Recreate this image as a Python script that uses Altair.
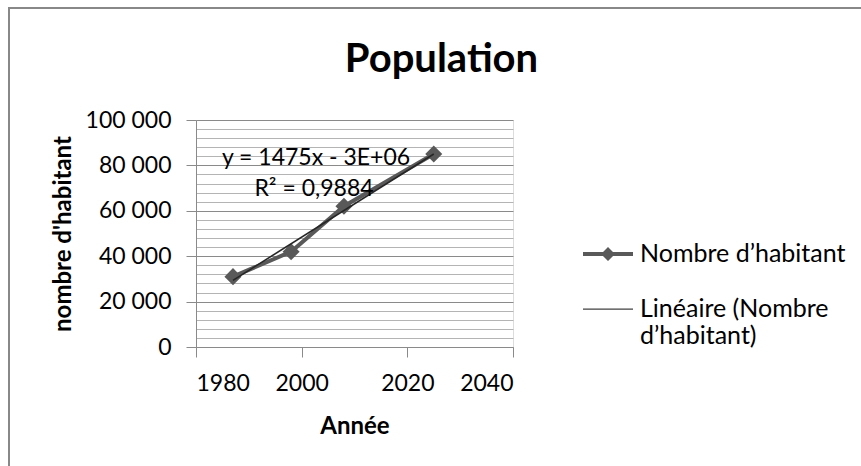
import altair as alt
import pandas as pd

# ---- data ----
years = [1987, 1998, 2008, 2025]
population = [31000, 42000, 62000, 85000]
series_data = "Nombre d’habitant"
series_trend = "Linéaire (Nombre d’habitant)"
series_names = [series_data, series_trend]
x_ticks = [1980, 2000, 2020, 2040]
y_ticks = list(range(0, 100001, 4000))   # major every 20 000, minor every 4 000
equation_text = "y = 1475x - 3E+06"
r2_text = "R² = 0,9884"

df = pd.DataFrame({"year": years, "pop": population, "series": series_data})
legend_df = pd.DataFrame({"series": series_names})

FONT = "Lato"
W, H = 317, 227
DATA_COLOR = "#595959"
TREND_COLOR = "#262626"
GRID_MAJOR = "#8a8a8a"
GRID_MINOR = "#b4b4b4"

x_enc = alt.X(
    "year:Q",
    scale=alt.Scale(domain=[1980, 2040], nice=False, zero=False),
    axis=alt.Axis(
        values=x_ticks, format="d", grid=False, title="Année",
        tickSize=10, tickColor=GRID_MAJOR, domainColor=GRID_MAJOR,
        labelFont=FONT, labelFontSize=23, labelColor="#000000", labelPadding=15,
        titleFont=FONT, titleFontSize=24, titleFontWeight="bold", titleColor="#000000",
        titlePadding=19, labelOverlap=False,
    ),
)
y_enc = alt.Y(
    "pop:Q",
    scale=alt.Scale(domain=[0, 100000], nice=False),
    axis=alt.Axis(
        values=y_ticks, tickCount=40, grid=True,
        gridColor={"condition": {"test": "datum.value % 20000 === 0", "value": GRID_MAJOR}, "value": GRID_MINOR},
        tickOpacity={"condition": {"test": "datum.value % 20000 === 0", "value": 1}, "value": 0},
        tickSize=10, tickColor=GRID_MAJOR, domainColor=GRID_MAJOR,
        labelExpr="datum.value % 20000 === 0 ? replace(format(datum.value, ','), ',', ' ') : ''",
        labelFont=FONT, labelFontSize=23, labelColor="#000000", labelPadding=15,
        labelOverlap=False,
        title="nombre d'habitant", titleFont=FONT, titleFontSize=24,
        titleFontWeight="bold", titleColor="#000000", titlePadding=10,
    ),
)

base = alt.Chart(df)

data_line = base.mark_line(color=DATA_COLOR, strokeWidth=4).encode(x=x_enc, y=y_enc)
data_points = base.mark_point(shape="diamond", filled=True, size=290, opacity=1,
                              color=DATA_COLOR).encode(x="year:Q", y="pop:Q")
trend = base.transform_regression("year", "pop").mark_line(
    color=TREND_COLOR, strokeWidth=1.6).encode(x="year:Q", y="pop:Q")

legend_props = dict(
    title=None, orient="none", legendX=387, legendY=109,
    symbolSize=2500, symbolStrokeWidth=0, symbolOpacity=1,
    labelFont=FONT, labelFontSize=25, labelColor="#000000", labelLimit=400,
    labelOffset=7, rowPadding=17, padding=0,
    labelExpr="length(datum.label) > 20 ? [slice(datum.label, 0, 16), slice(datum.label, 17)] : datum.label",
)

legend_layer = alt.Chart(legend_df).transform_filter("datum.series === 'none'").mark_point(
    filled=True, opacity=1).encode(
    color=alt.Color(
        "series:N",
        scale=alt.Scale(domain=series_names, range=[DATA_COLOR, "#404040"]),
        legend=alt.Legend(**legend_props),
    ),
    shape=alt.Shape(
        "series:N",
        scale=alt.Scale(
            domain=series_names,
            range=[
                "M-1,-0.08H1V0.08H-1Z M0,-0.28L0.28,0L0,0.28L-0.28,0Z",
                "M-1,-0.025H1V0.025H-1Z",
            ],
        ),
        legend=alt.Legend(**legend_props),
    ),
)

one = alt.Data(values=[{"k": 1}])
eq1 = alt.Chart(one).mark_text(font=FONT, fontSize=23, color="#000000").encode(
    x=alt.value(120), y=alt.value(38), text=alt.value(equation_text))
eq2 = alt.Chart(one).mark_text(font=FONT, fontSize=23, color="#000000").encode(
    x=alt.value(118), y=alt.value(69), text=alt.value(r2_text))

border_top = alt.Chart(one).mark_rule(color="#888888", strokeWidth=2).encode(
    x=alt.value(-188), x2=alt.value(670), y=alt.value(-112))
border_left = alt.Chart(one).mark_rule(color="#888888", strokeWidth=2).encode(
    x=alt.value(-187), y=alt.value(-113), y2=alt.value(350))

chart = alt.layer(
    data_line, data_points, trend, legend_layer, eq1, eq2, border_top, border_left
).properties(
    width=W, height=H,
    title=alt.TitleParams("Population", font=FONT, fontSize=40, fontWeight="bold",
                          color="#000000", anchor="middle", dx=87, frame="group",
                          baseline="alphabetic", offset=-106),
    autosize=alt.AutoSizeParams(type="none"),
    padding={"left": 196, "top": 120, "right": 348, "bottom": 119},
).configure_view(stroke=None).configure(background="white")

chart.save("out.html", embed_options={"renderer": "svg", "actions": False})
